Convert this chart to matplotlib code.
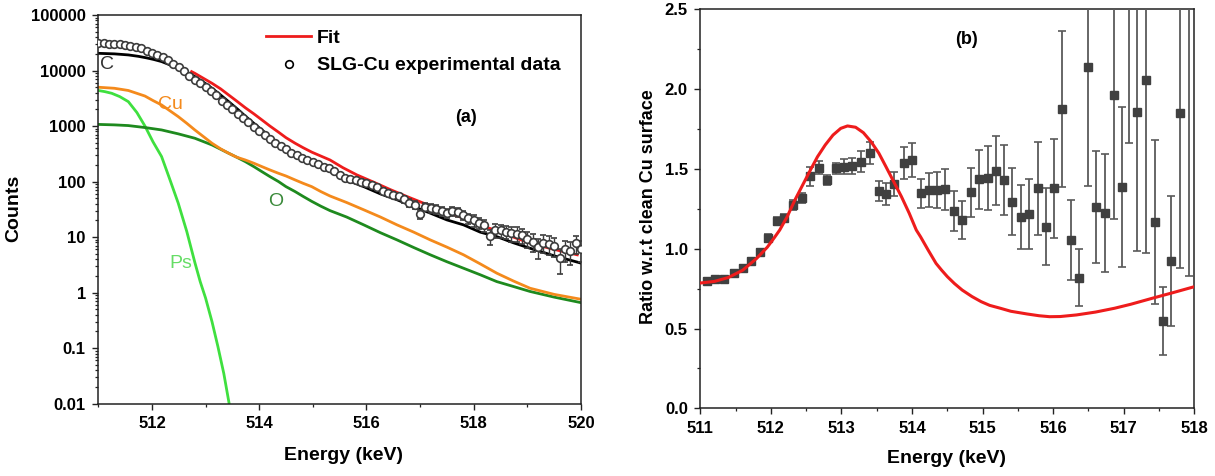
import numpy as np
import matplotlib
matplotlib.use("Agg")
import matplotlib.pyplot as plt
from matplotlib.lines import Line2D
from matplotlib.ticker import FixedLocator, FixedFormatter, MultipleLocator, LogLocator, NullFormatter

plt.rcParams["font.family"] = ["Liberation Sans", "DejaVu Sans"]
plt.rcParams["font.weight"] = "bold"

# ---------------- panel (a): Doppler spectrum, log counts ----------------
# measured points on a 0.1 keV grid from 511 to 520 keV
energy_a = np.linspace(511.0, 520.0, 91)
counts_a = [30900, 30900, 30200, 30200, 29500, 28800, 28200, 26900, 25100, 22900,
            20900, 19100, 17400, 15500, 13200, 11500, 9770, 8130, 6760, 5890,
            5010, 4270, 3550, 2880, 2400, 2000, 1660, 1380, 1170, 977,
            813, 692, 589, 501, 437, 380, 331, 295, 269, 245,
            229, 204, 186, 174, 158, 132, 117, 110, 105, 100,
            93, 87, 79, 69, 63, 58, 54, 48, 42, 38,
            26, 35.5, 33, 31.6, 29.5, 27.5, 29.5, 28.2, 25.1, 21.9,
            20, 18.2, 16.6, 10.5, 13.5, 13.2, 12.6, 11.7, 11.5, 10.7,
            9.3, 8.3, 6.6, 7.9, 7.6, 6.9, 4.2, 6.0, 5.6, 7.8, 6.0]
err_a = [300, 300, 300, 300, 300, 290, 280, 270, 250, 230,
         210, 190, 170, 155, 130, 115, 100, 90, 80, 75,
         70, 65, 60, 55, 50, 45, 40, 37, 34, 31,
         29, 26, 24, 22, 21, 19, 18, 17, 16, 16,
         15, 14, 14, 13, 13, 12, 11, 10, 10, 10,
         10, 9, 9, 8, 8, 8, 7, 7, 6.5, 6,
         5, 6, 6, 5.5, 5.5, 5, 5.5, 5.3, 5, 4.7,
         4.5, 4.3, 4, 3.2, 3.7, 3.6, 3.5, 3.4, 3.4, 3.3,
         3, 2.9, 2.6, 2.8, 2.8, 2.6, 2, 2.4, 2.4, 2.8, 2.4]

fit_e = [512.74, 512.80, 512.96, 513.12, 513.28, 513.43, 513.58, 513.74, 513.90, 514.05,
         514.20, 514.36, 514.50, 514.67, 514.82, 514.98, 515.15, 515.32, 515.56, 515.82,
         516.13, 516.44, 516.75, 517.06, 517.44, 517.81, 518.12, 518.43, 518.74, 519.05,
         519.50, 519.93]
fit_c = [9550, 8910, 7240, 5890, 4680, 3630, 2820, 2140, 1660, 1290,
         1000, 776, 617, 490, 407, 339, 288, 245, 178, 132,
         98, 72, 54, 41, 29.5, 21.9, 16.6, 12.9, 10.0, 7.8,
         6.0, 4.8]

c_e = [511.0, 511.3, 511.56, 511.75, 511.9, 512.03, 512.18, 512.33, 512.49, 512.65,
       512.80, 512.96, 513.12, 513.28, 513.43, 513.60, 513.74, 513.90, 514.05, 514.20,
       514.36, 514.50, 514.67, 514.82, 514.98, 515.15, 515.32, 515.63, 515.95, 516.26,
       516.57, 516.88, 517.19, 517.50, 517.81, 518.12, 518.43, 518.74, 519.05, 519.50, 520.0]
c_c = [20400, 19950, 19100, 18000, 16900, 15850, 14500, 12700, 11000, 9330,
       7760, 6170, 4790, 3630, 2750, 2000, 1510, 1120, 851, 646,
       490, 394, 316, 257, 214, 186, 151, 107, 81, 60,
       47, 35.5, 27, 20.4, 16.6, 12.3, 10.2, 7.9, 6.3, 4.6, 3.4]

cu_e = [511.0, 511.3, 511.56, 511.87, 512.02, 512.18, 512.33, 512.49, 512.65, 512.80,
        512.96, 513.12, 513.28, 513.43, 513.58, 513.74, 513.90, 514.05, 514.20, 514.36,
        514.50, 514.67, 514.82, 514.98, 515.15, 515.32, 515.63, 515.95, 516.26, 516.57,
        516.88, 517.19, 517.50, 517.81, 518.12, 518.43, 518.74, 519.05, 519.50, 520.0]
cu_c = [5000, 4790, 4370, 3470, 2880, 2400, 1900, 1480, 1120, 851,
        646, 490, 389, 324, 275, 245, 214, 186, 162, 141,
        126, 107, 93, 81, 66, 55, 42, 31, 23, 16.6,
        12.3, 8.9, 6.6, 4.8, 3.3, 2.24, 1.62, 1.2, 0.93, 0.76]

o_e = [511.0, 511.3, 511.56, 511.87, 512.18, 512.49, 512.80, 513.12, 513.43, 513.58,
       513.74, 513.90, 514.05, 514.20, 514.36, 514.50, 514.67, 514.82, 514.98, 515.15,
       515.32, 515.63, 515.95, 516.26, 516.57, 516.88, 517.19, 517.50, 517.81, 518.12,
       518.43, 518.74, 519.05, 519.50, 520.0]
o_c = [1070, 1050, 1020, 940, 851, 724, 603, 457, 324, 275,
       229, 186, 151, 123, 100, 81, 66, 54, 44, 36,
       30, 23, 16.6, 12, 8.9, 6.5, 4.8, 3.6, 2.75, 2.1,
       1.58, 1.29, 1.05, 0.83, 0.66]

ps_e = [511.0, 511.12, 511.25, 511.4, 511.56, 511.72, 511.87, 512.02, 512.18, 512.33,
        512.49, 512.65, 512.80, 512.90, 513.0, 513.12, 513.23, 513.34, 513.44]
ps_c = [4370, 4170, 3890, 3390, 2750, 1750, 1000, 520, 282, 112,
        41, 12.6, 3.5, 1.58, 0.8, 0.30, 0.107, 0.035, 0.01]

ytick_vals = [0.01, 0.1, 1, 10, 100, 1000, 10000, 100000]
ytick_text = ["0.01", "0.1", "1", "10", "100", "1000", "10000", "100000"]

# ---------------- panel (b): ratio to clean Cu ----------------
energy_b = [511.09, 511.21, 511.34, 511.48, 511.60, 511.72, 511.845, 511.965, 512.08, 512.19,
            512.31, 512.44, 512.56, 512.675, 512.80, 512.92, 513.04, 513.15, 513.27, 513.40,
            513.53, 513.63, 513.75, 513.88, 514.00, 514.12, 514.24, 514.36, 514.47, 514.59,
            514.71, 514.83, 514.95, 515.07, 515.19, 515.30, 515.42, 515.54, 515.66, 515.78,
            515.90, 516.01, 516.13, 516.25, 516.37, 516.49, 516.61, 516.73, 516.86, 516.97,
            517.08, 517.19, 517.32, 517.44, 517.56, 517.67, 517.80, 517.92]
ratio_b = [0.80, 0.808, 0.808, 0.846, 0.881, 0.923, 0.981, 1.065, 1.175, 1.19,
           1.274, 1.316, 1.455, 1.508, 1.43, 1.504, 1.514, 1.52, 1.545, 1.598,
           1.363, 1.343, 1.403, 1.535, 1.556, 1.347, 1.368, 1.368, 1.372, 1.236,
           1.18, 1.353, 1.435, 1.441, 1.489, 1.43, 1.294, 1.197, 1.216, 1.378,
           1.138, 1.378, 1.875, 1.055, 0.818, 2.14, 1.263, 1.222, 1.963, 1.388,
           2.90, 1.857, 2.055, 1.169, 0.547, 0.923, 1.852, 2.80]
ratio_err = [0.015, 0.015, 0.015, 0.02, 0.02, 0.02, 0.02, 0.025, 0.025, 0.025,
             0.03, 0.03, 0.06, 0.04, 0.03, 0.035, 0.045, 0.05, 0.065, 0.07,
             0.063, 0.07, 0.075, 0.1, 0.105, 0.092, 0.105, 0.11, 0.127, 0.123,
             0.12, 0.155, 0.185, 0.2, 0.215, 0.22, 0.21, 0.2, 0.22, 0.29,
             0.24, 0.31, 0.49, 0.25, 0.18, 0.75, 0.35, 0.37, 0.78, 0.5,
             1.24, 0.87, 1.08, 0.515, 0.21, 0.41, 0.97, 1.97]

fitb_e = [511.0, 511.2, 511.4, 511.6, 511.8, 511.95, 512.05, 512.125, 512.23, 512.34,
          512.45, 512.56, 512.66, 512.77, 512.88, 512.99, 513.085, 513.20, 513.31, 513.42,
          513.53, 513.63, 513.74, 513.85, 513.96, 514.06, 514.12, 514.23, 514.34, 514.42,
          514.50, 514.60, 514.71, 514.85, 514.98, 515.10, 515.25, 515.40, 515.63, 515.80,
          515.95, 516.10, 516.33, 516.60, 516.87, 517.10, 517.40, 517.70, 518.0]
fitb_r = [0.785, 0.795, 0.82, 0.865, 0.94, 1.01, 1.07, 1.117, 1.20, 1.305,
          1.399, 1.493, 1.576, 1.65, 1.712, 1.754, 1.769, 1.761, 1.727, 1.67,
          1.598, 1.514, 1.42, 1.326, 1.222, 1.117, 1.075, 0.99, 0.908, 0.865,
          0.825, 0.782, 0.741, 0.70, 0.668, 0.645, 0.627, 0.608, 0.591, 0.58,
          0.574, 0.575, 0.585, 0.603, 0.627, 0.652, 0.689, 0.725, 0.762]

SPINE = "#222222"
RED = "#ee1c1c"
ORANGE = "#f48a1c"
DKGREEN = "#1e8a1e"
LTGREEN = "#3fe03f"
GREY = "#3c3c3c"

fig = plt.figure(figsize=(12.15, 4.76), dpi=100)
ax1 = fig.add_axes([0.0809, 0.1519, 0.3973, 0.8166])
ax2 = fig.add_axes([0.5764, 0.1422, 0.4066, 0.8383])


def style_axes(ax):
    for s in ax.spines.values():
        s.set_color(SPINE)
        s.set_linewidth(1.1)
    ax.tick_params(which="major", direction="out", length=4.5, width=1.0,
                   color=SPINE, labelsize=12, pad=4.5)
    ax.tick_params(which="minor", direction="out", length=2.3, width=0.9, color=SPINE)
    for lab in ax.get_xticklabels() + ax.get_yticklabels():
        lab.set_fontweight("bold")


# panel (a)
ax1.set_yscale("log")
ax1.plot(ps_e, ps_c, color=LTGREEN, lw=2, zorder=2)
ax1.plot(o_e, o_c, color=DKGREEN, lw=2, zorder=2)
ax1.plot(cu_e, cu_c, color=ORANGE, lw=2, zorder=2)
ax1.plot(fit_e, fit_c, color=RED, lw=2, zorder=2)
ax1.errorbar(energy_a, counts_a, yerr=err_a, fmt="o", ms=5.5, mfc="white", mec=GREY,
             mew=1.2, ecolor=GREY, elinewidth=1.0, capsize=2.4, zorder=3)
ax1.plot(c_e, c_c, color="black", lw=2, zorder=2.5)

ax1.set_xlim(511, 520)
ax1.set_ylim(0.01, 100000)
ax1.xaxis.set_major_locator(FixedLocator([512, 514, 516, 518, 520]))
ax1.xaxis.set_minor_locator(MultipleLocator(1))
ax1.yaxis.set_major_locator(FixedLocator(ytick_vals))
ax1.yaxis.set_major_formatter(FixedFormatter(ytick_text))
ax1.yaxis.set_minor_locator(LogLocator(base=10, subs=np.arange(2, 10), numticks=20))
ax1.yaxis.set_minor_formatter(NullFormatter())
style_axes(ax1)

ax1.set_xlabel("Energy (keV)", fontsize=14, fontweight="bold")
ax1.xaxis.set_label_coords(0.509, -0.111)
ax1.set_ylabel("Counts", fontsize=14, fontweight="bold")
ax1.yaxis.set_label_coords(-0.158, 0.503)

ax1.text(511.03, 12600, "C", fontsize=14, color="#333333", fontweight="normal",
         ha="left", va="center")
ax1.text(512.34, 2400, "Cu", fontsize=14, color=ORANGE, fontweight="normal",
         ha="center", va="center")
ax1.text(514.30, 44, "O", fontsize=14, color="#3a8a3a", fontweight="normal",
         ha="center", va="center")
ax1.text(512.53, 3.3, "Ps", fontsize=14, color="#66dd66", fontweight="normal",
         ha="center", va="center")
ax1.text(517.85, 1450, "(a)", fontsize=13, fontweight="bold", ha="center", va="center")

handles = [Line2D([], [], color=RED, lw=2),
           Line2D([], [], ls="none", marker="o", ms=5.5, mfc="white", mec="black", mew=1.2)]
leg = ax1.legend(handles, ["Fit", "SLG-Cu experimental data"], loc="upper left",
                 bbox_to_anchor=(0.348, 0.963), frameon=False, fontsize=14,
                 handlelength=2.3, handletextpad=0.3, labelspacing=0.5,
                 borderpad=0, borderaxespad=0)
for t in leg.get_texts():
    t.set_fontweight("bold")

# panel (b)
ax2.errorbar(energy_b, ratio_b, yerr=ratio_err, fmt="s", ms=5.8, color="#404040",
             ecolor="#5a5a5a", elinewidth=1.3, capsize=2.6, capthick=1.2, zorder=3)
ax2.plot(fitb_e, fitb_r, color=RED, lw=2.2, zorder=4)
ax2.set_xlim(511, 518)
ax2.set_ylim(0, 2.5)
ax2.xaxis.set_major_locator(MultipleLocator(1))
ax2.xaxis.set_minor_locator(MultipleLocator(0.5))
ax2.yaxis.set_major_locator(MultipleLocator(0.5))
ax2.yaxis.set_minor_locator(MultipleLocator(0.25))
ax2.yaxis.set_major_formatter(plt.FuncFormatter(lambda v, p: f"{v:.1f}"))
style_axes(ax2)

ax2.set_xlabel("Energy (keV)", fontsize=14, fontweight="bold")
ax2.xaxis.set_label_coords(0.499, -0.105)
ax2.set_ylabel("Ratio w.r.t clean Cu surface", fontsize=13, fontweight="bold")
ax2.yaxis.set_label_coords(-0.088, 0.506)
ax2.text(514.77, 2.31, "(b)", fontsize=13, fontweight="bold", ha="center", va="center")

fig.savefig("out.png", dpi=100)
